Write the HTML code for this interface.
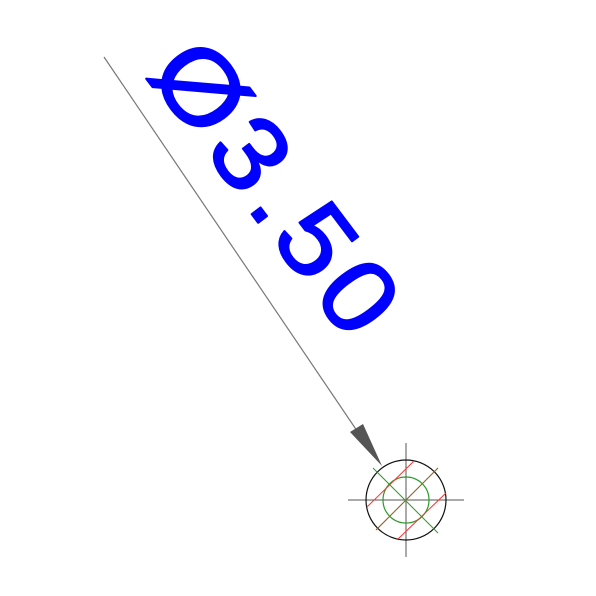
<!DOCTYPE html>
<html><head><meta charset="utf-8"><style>html,body{margin:0;padding:0;background:#fff}svg{display:block}</style></head>
<body>
<svg width="596" height="596" viewBox="0 0 596 596">
  <rect width="596" height="596" fill="#fff"/>
  <line x1="104" y1="57" x2="370" y2="450" stroke="#777" stroke-width="1.2"/>
  <polygon points="350,432 363,424 382,466" fill="#555"/>
  <text x="0" y="0" transform="translate(146,74) rotate(53) scale(1.08,1)" font-family="Liberation Sans, sans-serif" font-size="104" fill="#0000ff" stroke="#0000ff" stroke-width="2" stroke-linejoin="round" textLength="312" lengthAdjust="spacing">Ø3.50</text>
  <g>
    <line x1="348" y1="500" x2="464" y2="500" stroke="#555" stroke-width="1"/>
    <line x1="406" y1="443" x2="406" y2="557" stroke="#555" stroke-width="1"/>
    <circle cx="406" cy="500" r="40" fill="none" stroke="#111" stroke-width="1.2"/>
    <circle cx="406" cy="500" r="23" fill="none" stroke="#2a9a2a" stroke-width="1.2"/>
    <line x1="367" y1="507" x2="414" y2="461" stroke="#ff3030" stroke-width="1"/>
    <line x1="376" y1="530" x2="438" y2="468" stroke="#ff3030" stroke-width="1"/>
    <line x1="398" y1="539" x2="446" y2="493" stroke="#ff3030" stroke-width="1"/>
    <line x1="373" y1="468" x2="438" y2="533" stroke="#2a9a2a" stroke-width="1"/>
    <line x1="376" y1="530" x2="438" y2="468" stroke="#2a9a2a" stroke-width="1" opacity="0.6"/>
  </g>
</svg>
</body></html>
